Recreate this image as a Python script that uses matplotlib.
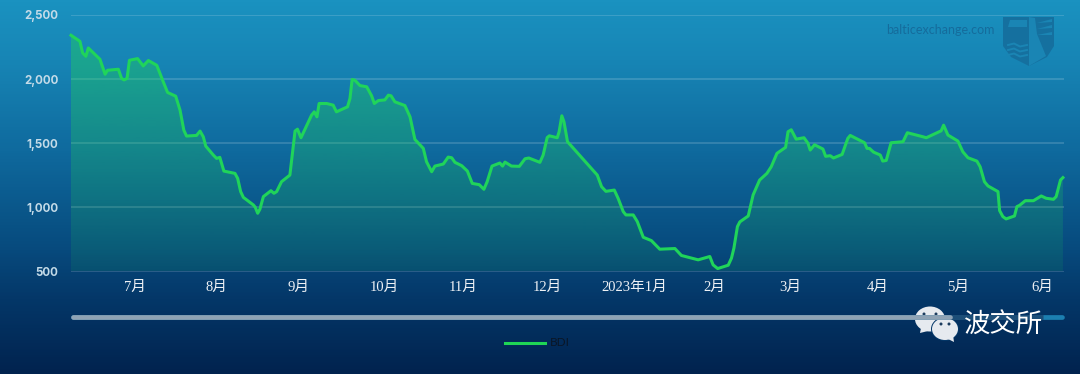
# -*- coding: utf-8 -*-
import numpy as np
from matplotlib import pyplot as plt
from matplotlib.colors import LinearSegmentedColormap
from matplotlib.patches import Ellipse, Polygon

# days since the first point of the chart, and BDI value
days = [0, 3.3, 4.3, 5.5, 6.4, 10.7, 12.6, 13.5, 17.5, 18.7, 19.6, 20.7, 21.6, 24.6, 26.7, 28.6, 31.7, 34.1, 35.7,
        38.7, 40.3, 41.7, 42.7, 46.4, 47.7, 48.9, 49.8, 52.6, 53.8, 55, 56.5, 60.6, 61.6, 62.7, 63.7, 67.4, 68.1,
        69, 69.8, 71.1, 73.9, 75, 76, 77.8, 80.9, 82.8, 83.7, 85, 88.9, 89.9, 90.9, 91.7, 94.5, 96.9, 98.1, 102.2,
        103.1, 103.9, 104.9, 106.8, 109.3, 111.1, 112.1, 113.6, 116, 117.3, 118.3, 119.7, 123.4, 125.3, 127.1,
        130.2, 131.4, 133.3, 134.5, 137.6, 139.4, 140.7, 141.9, 144.4, 146.5, 148.3, 150.9, 152.6, 153.8, 155.6,
        158.5, 159.5, 160.4, 162.8, 165.7, 167.8, 169.2, 173.3, 174.5, 176, 176.8, 179.7, 180.4, 181.4, 182.2,
        183.5, 194.5, 196.1, 197.7, 200.8, 202.2, 204.1, 205.1, 207.8, 209.3, 211.5, 214.5, 217.6, 223.2, 225.6,
        230, 231.8, 236.1, 237.3, 239, 242.9, 244.1, 245, 246.3, 247.2, 250.3, 252.1, 254.5, 257.2, 258.8, 260.9,
        264.1, 265, 266.2, 268, 270.9, 272.4, 273.2, 274.8, 277.9, 278.9, 280.6, 281.8, 285, 287.1, 288, 293.3,
        294.2, 295.1, 296.6, 299.1, 300, 301.3, 303.1, 307.5, 309.1, 314.8, 316.1, 321.6, 322.5, 324.1, 327.8,
        329.6, 331.5, 334.8, 336, 337.6, 338.9, 342.6, 343.2, 344.4, 345.6, 348.7, 349.6, 350.6, 352.7, 355.7,
        358.6, 360.4, 363.1, 364.1, 365.7, 366.6]
bdi = [2342, 2295, 2204, 2178, 2243, 2155, 2038, 2069, 2077, 2005, 1994, 2005, 2147, 2160, 2103, 2145, 2108, 1979, 1896,
       1867, 1758, 1602, 1556, 1561, 1595, 1550, 1478, 1408, 1382, 1390, 1283, 1265, 1226, 1123, 1078, 1019, 1001,
       954, 985, 1084, 1130, 1110, 1123, 1200, 1252, 1595, 1610, 1543, 1719, 1745, 1706, 1810, 1810, 1797, 1745, 1784,
       1849, 1997, 1992, 1950, 1940, 1870, 1810, 1833, 1838, 1875, 1870, 1823, 1794, 1706, 1530,
       1460, 1356, 1278, 1322, 1338, 1392, 1387, 1351, 1325, 1283, 1187, 1177, 1141, 1200, 1322,
       1346, 1322, 1353, 1322, 1320, 1379, 1385, 1351, 1408, 1545, 1558, 1543, 1590, 1714, 1667,
       1512, 1252, 1161, 1125, 1135, 1071, 967, 941, 941, 889, 767, 741, 674, 679, 625,
       601, 591, 617, 552, 523, 549, 604, 682, 850, 887, 933, 1097, 1213, 1265, 1317, 1421,
       1468, 1590, 1605, 1532, 1543, 1499, 1447, 1488, 1455, 1398, 1403, 1385, 1413, 1538, 1561, 1504,
       1460, 1460, 1431, 1408, 1361, 1366, 1504, 1512, 1582, 1551, 1543, 1597, 1641, 1564, 1517,
       1434, 1387, 1361, 1317, 1200, 1167, 1123, 975, 928, 910, 933, 1006, 1016, 1052, 1052,
       1089, 1071, 1063, 1084, 1213, 1232]

month_pos = [23.6, 53.6, 83.9, 115.7, 144.9, 175.9, 208, 237.6, 266, 298.2, 327.7, 358.8]
month_labels = ['7月', '8月', '9月', '10月', '11月', '12月', '2023年1月', '2月', '3月', '4月', '5月', '6月']
y_ticks = [500, 1000, 1500, 2000, 2500]

W, H = 1080, 374
fig = plt.figure(figsize=(W / 100, H / 100), dpi=100)

# 背景渐变，坐标直接用像素
bg = fig.add_axes([0, 0, 1, 1], zorder=0)
bg.set_xlim(0, W)
bg.set_ylim(H, 0)
bg.axis('off')
bg_cmap = LinearSegmentedColormap.from_list('bg', [
    (0, '#1a92c0'), (60 / H, '#1785b5'), (150 / H, '#0f6a9e'), (250 / H, '#074a7d'),
    (300 / H, '#043768'), (1, '#01234f')])
bg.imshow(np.linspace(0, 1, 374).reshape(-1, 1), cmap=bg_cmap, extent=(0, W, H, 0), aspect='auto')

# 水印
wm = '#15709f'
light = '#1a85b4'
bg.text(886, 30, 'balticexchange.com', color='#156c9c', fontsize=9, family='Lato', va='center', ha='left')
bg.add_patch(Polygon([(1003, 17), (1054, 17), (1054, 46), (1047, 57), (1029, 66), (1011, 57), (1003, 46)],
                     closed=True, fc=wm, ec='none'))
# 灯塔和光束
bg.add_patch(Polygon([(1029, 66), (1029, 17), (1035, 18), (1037, 34), (1046, 56)], closed=True, fc=light, ec='none'))
for y0, y1 in [(21, 20), (27, 26), (33, 33)]:
    bg.add_patch(Polygon([(1037, y0 + 2), (1052, y1 - 1), (1052, y1 + 2)], closed=True, fc=light, ec='none'))
# 船和波浪
bg.add_patch(Polygon([(1008, 27), (1027, 27), (1027, 20), (1010, 20)], closed=True, fc=light, ec='none'))
bg.add_patch(Polygon([(1010, 30), (1024, 30), (1020, 37), (1012, 37)], closed=True, fc=wm, ec='none'))
for y in [45, 50, 55]:
    bg.plot([1008, 1014, 1020, 1027], [y, y - 1.5, y + 1.5, y], color=light, lw=1.4)

# 主图
ax = fig.add_axes([71 / W, 1 - 271.5 / H, (1064 - 71) / W, (271.5 - 15) / H], zorder=1)
ax.patch.set_alpha(0)
for s in ax.spines.values():
    s.set_visible(False)
ax.set_xlim(0, 367)
ax.set_ylim(500, 2500)

green = np.array([34, 214, 85]) / 255
alpha_img = np.zeros((256, 1, 4))
alpha_img[:, :, :3] = green
alpha_img[:, 0, 3] = np.linspace(0.45, 0.1, 256)
area = ax.fill_between(days, bdi, 500, color='none')
im = ax.imshow(alpha_img, extent=(0, 367, 500, 2500), aspect='auto', origin='upper', zorder=1)
im.set_clip_path(area.get_paths()[0], transform=ax.transData)
ax.set_xlim(0, 367)
ax.set_ylim(500, 2500)

ax.set_yticks(y_ticks)
ax.set_yticklabels([f'{v:,}' for v in y_ticks], family='Inter', fontweight='bold', fontsize=8.3, color='#c4dbe8')
ax.set_xticks(month_pos)
ax.set_xticklabels(month_labels, family=['Liberation Serif', 'Noto Sans CJK SC'],
                   fontsize=10.5, color='#eef1f5')
ax.tick_params(length=0, pad=7)
ax.tick_params(axis='y', pad=9)
ax.grid(axis='y', color='white', alpha=0.18, lw=1.2, zorder=0)
ax.set_axisbelow(True)
ax.plot(days, bdi, color='#20d45a', lw=2.2, zorder=3, solid_joinstyle='round', clip_on=False)

# 滑块、图例、公众号标识
top = fig.add_axes([0, 0, 1, 1], zorder=2)
top.set_xlim(0, W)
top.set_ylim(H, 0)
top.axis('off')
top.plot([73, 1062], [316.5, 316.5], color='#1c7fb0', lw=3.4, solid_capstyle='round')
top.plot([950, 1043], [316.5, 316.5], color='#1c4e78', lw=3.6, solid_capstyle='butt')
top.plot([73, 950], [316.5, 316.5], color='#8fa3b5', lw=3.4, solid_capstyle='round')
top.plot([505, 545], [343, 343], color='#1fd655', lw=2.2)
top.text(550, 343, 'BDI', color='#0a1626', fontsize=8.5, family='Lato', va='center', ha='left')

bubble = '#e6eaef'
top.add_patch(Ellipse((930, 319), 30, 25, fc=bubble, ec='none'))
top.add_patch(Polygon([(921, 328), (920, 333), (928, 331)], closed=True, fc=bubble, ec='none'))
top.add_patch(Ellipse((945, 329), 28, 24, fc='#043768', ec='none'))
top.add_patch(Ellipse((945, 329), 26, 22, fc=bubble, ec='none'))
top.add_patch(Polygon([(948, 339), (954, 342), (953, 335)], closed=True, fc=bubble, ec='none'))
for cx, cy in [(924, 314), (936, 314), (941, 324), (949, 324)]:
    top.add_patch(Ellipse((cx, cy), 3, 3, fc='#1d3d5f', ec='none'))
top.text(1004, 325.5, '波交所', color='white', fontsize=19, family='Noto Sans CJK SC', fontweight='light',
         va='center', ha='center')

plt.savefig('out.png', dpi=100)
